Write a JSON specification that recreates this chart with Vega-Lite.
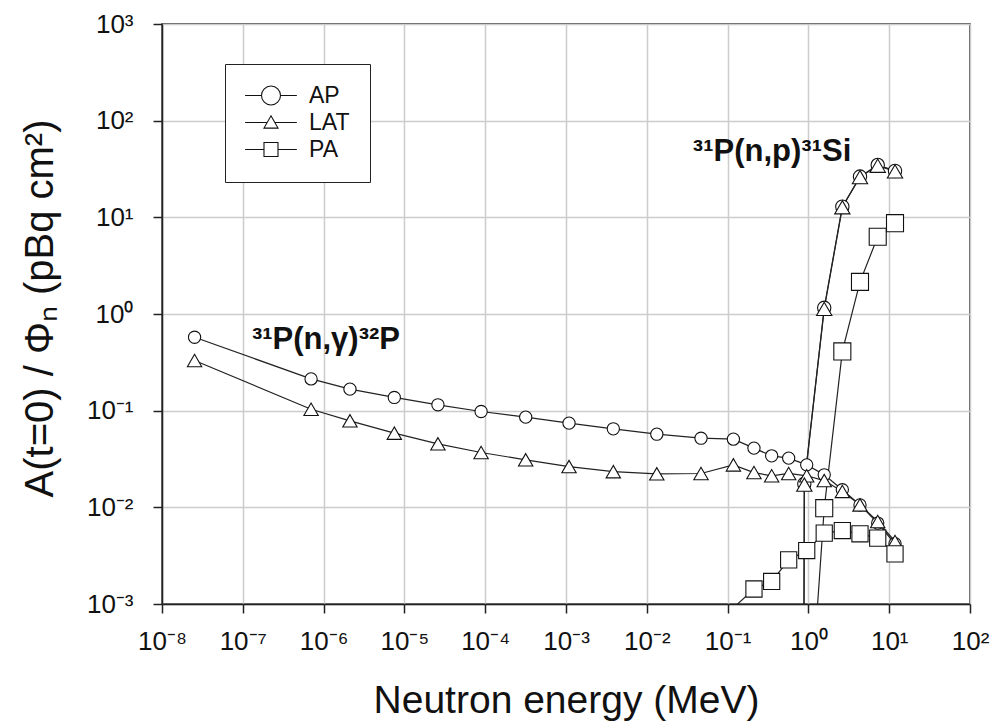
{
  "$schema": "https://vega.github.io/schema/vega-lite/v6.json",
  "width": 808,
  "height": 580,
  "autosize": {"type": "none"},
  "padding": {"left": 162, "top": 24, "right": 25, "bottom": 120},
  "background": "white",
  "config": {
    "font": "Liberation Sans",
    "view": {"stroke": "#222", "strokeWidth": 1.5},
    "axis": {
      "domainColor": "#222", "domainWidth": 1.5,
      "tickColor": "#222", "tickWidth": 1.5, "tickSize": 9,
      "gridColor": "#cccccc", "gridWidth": 1.5,
      "labelFont": "Liberation Sans", "labelFontSize": 26, "labelColor": "#111",
      "titleFont": "Liberation Sans", "titleFontWeight": "normal", "titleColor": "#111"
    }
  },
  "datasets": {
    "curves": [
      {"p": "AP", "k": "AP-ng", "E": 2.53e-8, "v": 0.575},
      {"p": "AP", "k": "AP-ng", "E": 7.0e-7, "v": 0.213},
      {"p": "AP", "k": "AP-ng", "E": 2.12e-6, "v": 0.167},
      {"p": "AP", "k": "AP-ng", "E": 7.5e-6, "v": 0.137},
      {"p": "AP", "k": "AP-ng", "E": 2.6e-5, "v": 0.115},
      {"p": "AP", "k": "AP-ng", "E": 8.9e-5, "v": 0.098},
      {"p": "AP", "k": "AP-ng", "E": 3.17e-4, "v": 0.0857},
      {"p": "AP", "k": "AP-ng", "E": 1.09e-3, "v": 0.0743},
      {"p": "AP", "k": "AP-ng", "E": 3.85e-3, "v": 0.0649},
      {"p": "AP", "k": "AP-ng", "E": 1.33e-2, "v": 0.0571},
      {"p": "AP", "k": "AP-ng", "E": 4.69e-2, "v": 0.0519},
      {"p": "AP", "k": "AP-ng", "E": 0.118, "v": 0.0507},
      {"p": "AP", "k": "AP-ng", "E": 0.212, "v": 0.041},
      {"p": "AP", "k": "AP-ng", "E": 0.351, "v": 0.0341},
      {"p": "AP", "k": "AP-ng", "E": 0.57, "v": 0.0323},
      {"p": "AP", "k": "AP-ng", "E": 0.953, "v": 0.0275},
      {"p": "AP", "k": "AP-ng", "E": 1.57, "v": 0.0217},
      {"p": "AP", "k": "AP-ng", "E": 2.63, "v": 0.0152},
      {"p": "AP", "k": "AP-ng", "E": 4.35, "v": 0.0106},
      {"p": "AP", "k": "AP-ng", "E": 7.21, "v": 0.00687},
      {"p": "AP", "k": "AP-ng", "E": 11.8, "v": 0.0042},
      {"p": "AP", "k": "AP-np", "E": 0.87, "v": 1e-5},
      {"p": "AP", "k": "AP-np", "E": 0.89, "v": 0.0175},
      {"p": "AP", "k": "AP-np", "E": 1.57, "v": 1.16},
      {"p": "AP", "k": "AP-np", "E": 2.63, "v": 12.9},
      {"p": "AP", "k": "AP-np", "E": 4.35, "v": 26.4},
      {"p": "AP", "k": "AP-np", "E": 7.21, "v": 34.8},
      {"p": "AP", "k": "AP-np", "E": 11.8, "v": 30.2},
      {"p": "LAT", "k": "LAT-ng", "E": 2.53e-8, "v": 0.33},
      {"p": "LAT", "k": "LAT-ng", "E": 7.0e-7, "v": 0.1035},
      {"p": "LAT", "k": "LAT-ng", "E": 2.12e-6, "v": 0.0785},
      {"p": "LAT", "k": "LAT-ng", "E": 7.5e-6, "v": 0.0585},
      {"p": "LAT", "k": "LAT-ng", "E": 2.6e-5, "v": 0.0454},
      {"p": "LAT", "k": "LAT-ng", "E": 8.9e-5, "v": 0.0369},
      {"p": "LAT", "k": "LAT-ng", "E": 3.17e-4, "v": 0.031},
      {"p": "LAT", "k": "LAT-ng", "E": 1.09e-3, "v": 0.0264},
      {"p": "LAT", "k": "LAT-ng", "E": 3.85e-3, "v": 0.0234},
      {"p": "LAT", "k": "LAT-ng", "E": 1.33e-2, "v": 0.0222},
      {"p": "LAT", "k": "LAT-ng", "E": 4.69e-2, "v": 0.0224},
      {"p": "LAT", "k": "LAT-ng", "E": 0.118, "v": 0.0275},
      {"p": "LAT", "k": "LAT-ng", "E": 0.212, "v": 0.0229},
      {"p": "LAT", "k": "LAT-ng", "E": 0.351, "v": 0.0212},
      {"p": "LAT", "k": "LAT-ng", "E": 0.57, "v": 0.0224},
      {"p": "LAT", "k": "LAT-ng", "E": 0.953, "v": 0.0212},
      {"p": "LAT", "k": "LAT-ng", "E": 1.57, "v": 0.0189},
      {"p": "LAT", "k": "LAT-ng", "E": 2.63, "v": 0.0146},
      {"p": "LAT", "k": "LAT-ng", "E": 4.35, "v": 0.0106},
      {"p": "LAT", "k": "LAT-ng", "E": 7.21, "v": 0.00713},
      {"p": "LAT", "k": "LAT-ng", "E": 11.8, "v": 0.00443},
      {"p": "LAT", "k": "LAT-np", "E": 0.87, "v": 1e-5},
      {"p": "LAT", "k": "LAT-np", "E": 0.89, "v": 0.0172},
      {"p": "LAT", "k": "LAT-np", "E": 1.57, "v": 1.13},
      {"p": "LAT", "k": "LAT-np", "E": 2.63, "v": 12.7},
      {"p": "LAT", "k": "LAT-np", "E": 4.35, "v": 26.1},
      {"p": "LAT", "k": "LAT-np", "E": 7.21, "v": 34.2},
      {"p": "LAT", "k": "LAT-np", "E": 11.8, "v": 29.9},
      {"p": "PA", "k": "PA-ng", "E": 4.69e-2, "v": 0.00045},
      {"p": "PA", "k": "PA-ng", "E": 0.212, "v": 0.00143},
      {"p": "PA", "k": "PA-ng", "E": 0.351, "v": 0.00171},
      {"p": "PA", "k": "PA-ng", "E": 0.57, "v": 0.00286},
      {"p": "PA", "k": "PA-ng", "E": 0.953, "v": 0.00357},
      {"p": "PA", "k": "PA-ng", "E": 1.57, "v": 0.00541},
      {"p": "PA", "k": "PA-ng", "E": 2.63, "v": 0.00575},
      {"p": "PA", "k": "PA-ng", "E": 4.35, "v": 0.00532},
      {"p": "PA", "k": "PA-ng", "E": 7.21, "v": 0.0048},
      {"p": "PA", "k": "PA-ng", "E": 11.8, "v": 0.0033},
      {"p": "PA", "k": "PA-np", "E": 0.89, "v": 1e-5},
      {"p": "PA", "k": "PA-np", "E": 1.57, "v": 0.0098},
      {"p": "PA", "k": "PA-np", "E": 2.63, "v": 0.41},
      {"p": "PA", "k": "PA-np", "E": 4.35, "v": 2.15},
      {"p": "PA", "k": "PA-np", "E": 7.21, "v": 6.3},
      {"p": "PA", "k": "PA-np", "E": 11.8, "v": 8.7}
    ],
    "notes": [
      {"t": "³¹P(n,γ)³²P", "E": 1.07e-6, "v": 0.54},
      {"t": "³¹P(n,p)³¹Si", "E": 0.355, "v": 47.5}
    ]
  },
  "encoding": {
    "x": {
      "field": "E", "type": "quantitative",
      "scale": {"type": "log", "domain": [1e-8, 100], "nice": false},
      "axis": {
        "values": [1e-8, 1e-7, 1e-6, 1e-5, 1e-4, 1e-3, 1e-2, 1e-1, 1, 10, 100],
        "labelExpr": "'10' + replace(replace(replace(replace(replace(replace(replace(replace(replace(replace(replace('' + round(log(datum.value) / LN10), '-', '⁻'), '0', '⁰'), '1', '¹'), '2', '²'), '3', '³'), '4', '⁴'), '5', '⁵'), '6', '⁶'), '7', '⁷'), '8', '⁸'), '9', '⁹')",
        "labelPadding": 15,
        "labelFlush": false,
        "labelOverlap": false,
        "title": "Neutron energy (MeV)",
        "titleFontSize": 39,
        "titleX": 404, "titleY": 108, "titleBaseline": "alphabetic", "titleAlign": "center"
      }
    },
    "y": {
      "field": "v", "type": "quantitative",
      "scale": {"type": "log", "domain": [0.001, 1000], "nice": false},
      "axis": {
        "values": [0.001, 0.01, 0.1, 1, 10, 100, 1000],
        "labelExpr": "'10' + replace(replace(replace(replace(replace(replace(replace(replace(replace(replace(replace('' + round(log(datum.value) / LN10), '-', '⁻'), '0', '⁰'), '1', '¹'), '2', '²'), '3', '³'), '4', '⁴'), '5', '⁵'), '6', '⁶'), '7', '⁷'), '8', '⁸'), '9', '⁹')",
        "labelPadding": 20,
        "labelFlush": false,
        "labelOverlap": false,
        "title": "A(t=0) / Φₙ (pBq cm²)",
        "titleFontSize": 40,
        "titleAngle": 270,
        "titleX": -110, "titleY": 284, "titleBaseline": "alphabetic", "titleAlign": "center"
      }
    }
  },
  "resolve": {"scale": {"shape": "independent"}},
  "layer": [
    {
      "data": {"name": "curves"},
      "mark": {"type": "line", "color": "#222", "strokeWidth": 1.2, "clip": true},
      "encoding": {
        "detail": {"field": "k", "type": "nominal"},
        "order": {"field": "E", "type": "quantitative"}
      }
    },
    {
      "data": {"name": "curves"},
      "mark": {"type": "point", "filled": false, "fill": "white", "fillOpacity": 1, "stroke": "#111", "strokeWidth": 1.1, "opacity": 1, "clip": true},
      "encoding": {
        "shape": {
          "field": "p", "type": "nominal",
          "scale": {"domain": ["AP", "LAT", "PA"], "range": ["circle", "triangle-up", "square"]},
          "legend": null
        },
        "size": {
          "field": "k", "type": "nominal",
          "scale": {"domain": ["AP-ng", "AP-np", "LAT-ng", "LAT-np", "PA-ng", "PA-np"], "range": [150, 290, 210, 170, 150, 150]},
          "legend": null
        }
      }
    },
    {
      "data": {"name": "curves"},
      "mark": {"type": "point", "filled": false, "color": "#111", "strokeWidth": 1.1, "opacity": 0},
      "encoding": {
        "shape": {
          "field": "p", "type": "nominal",
          "scale": {
            "domain": ["AP", "LAT", "PA"],
            "range": [
              "M-1.63,0H0.71M3.43,0H5.77M0.71,0A1.36,1.36,0,1,0,3.43,0A1.36,1.36,0,1,0,0.71,0Z",
              "M-1.63,0H1.53M2.61,0H5.77M2.07,-0.95L3.07,0.8L1.07,0.8Z",
              "M-1.63,0H1.07M3.07,0H5.77M1.07,-1H3.07V1H1.07Z"
            ]
          },
          "legend": {
            "title": null,
            "orient": "none",
            "legendX": 63, "legendY": 40,
            "padding": 20,
            "strokeColor": "#222",
            "fillColor": "white",
            "labelFontSize": 23,
            "labelColor": "#111",
            "symbolSize": 196,
            "labelOffset": 41,
            "rowPadding": 3,
            "symbolStrokeColor": "#111",
            "symbolStrokeWidth": 1.1,
            "symbolOpacity": 1
          }
        }
      }
    },
    {
      "data": {"name": "notes"},
      "mark": {"type": "text", "font": "Liberation Sans", "fontWeight": "bold", "fontSize": 31, "color": "#111", "align": "center", "baseline": "middle"},
      "encoding": {
        "text": {"field": "t", "type": "nominal"}
      }
    }
  ]
}
